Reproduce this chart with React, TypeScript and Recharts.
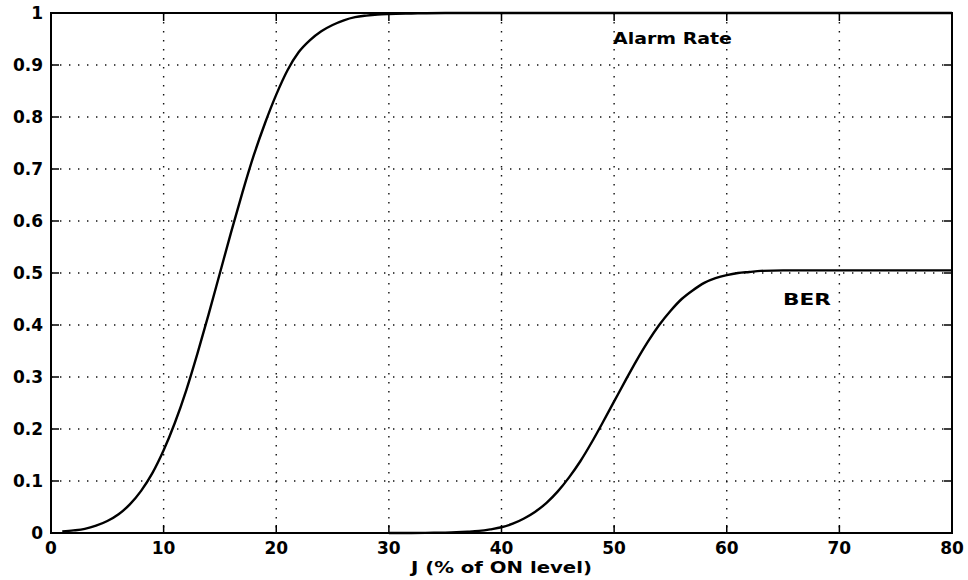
import { LineChart, Line, XAxis, YAxis, CartesianGrid, ReferenceArea, ReferenceDot } from "recharts";

// values
const ALARM_J = [1, 2, 3, 4, 5, 6, 7, 8, 9, 10, 11, 12, 13, 14, 15, 16, 17, 18, 19, 20, 21, 22, 23, 24, 25, 26, 27, 28, 29, 30, 32, 35, 40, 50, 60, 70, 80];
const ALARM_RATE = [0.003, 0.005, 0.008, 0.014, 0.023, 0.036, 0.055, 0.081, 0.115, 0.159, 0.212, 0.274, 0.345, 0.421, 0.5, 0.579, 0.655, 0.726, 0.788, 0.843, 0.89, 0.925, 0.948, 0.965, 0.977, 0.986, 0.992, 0.995, 0.997, 0.998, 0.999, 1, 1, 1, 1, 1, 1];

const BER_J = [30, 32, 34, 35, 36, 37, 38, 39, 40, 41, 42, 43, 44, 45, 46, 47, 48, 49, 50, 51, 52, 53, 54, 55, 56, 57, 58, 59, 60, 61, 62, 63, 65, 70, 80];
const BER = [0, 0.0001, 0.0004, 0.0007, 0.0013, 0.0024, 0.004, 0.007, 0.011, 0.018, 0.028, 0.041, 0.058, 0.08, 0.107, 0.138, 0.174, 0.213, 0.253, 0.293, 0.332, 0.368, 0.4, 0.427, 0.45, 0.467, 0.481, 0.49, 0.496, 0.5, 0.502, 0.504, 0.505, 0.505, 0.505];

const X_TICKS = [0, 10, 20, 30, 40, 50, 60, 70, 80];
const Y_TICKS = [0, 0.1, 0.2, 0.3, 0.4, 0.5, 0.6, 0.7, 0.8, 0.9, 1];

const alarmData = ALARM_J.map((j, i) => ({ j, v: ALARM_RATE[i] }));
const berData = BER_J.map((j, i) => ({ j, v: BER[i] }));

const W = 968;
const H = 580;
const PLOT = { left: 51, right: 952, top: 13, bottom: 533 };
const TICK_LEN = 8;
const FONT = "'DejaVu Sans', sans-serif";

function XTick(props: any) {
  const { x, y, payload } = props;
  return (
    <g>
      <line x1={x} x2={x} y1={PLOT.bottom} y2={PLOT.bottom - TICK_LEN} stroke="#000" strokeWidth={1.5} />
      <line x1={x} x2={x} y1={PLOT.top} y2={PLOT.top + TICK_LEN} stroke="#000" strokeWidth={1.5} />
      <text x={x} y={y} dy="0.72em" textAnchor="middle" fontFamily={FONT} fontWeight="bold" fontSize={17} fill="#000">
        {payload.value}
      </text>
    </g>
  );
}

function YTick(props: any) {
  const { x, y, payload } = props;
  return (
    <g>
      <line x1={PLOT.left} x2={PLOT.left + TICK_LEN} y1={y} y2={y} stroke="#000" strokeWidth={1.5} />
      <line x1={PLOT.right} x2={PLOT.right - TICK_LEN} y1={y} y2={y} stroke="#000" strokeWidth={1.5} />
      <text x={x} y={y} dy="0.36em" textAnchor="end" fontFamily={FONT} fontWeight="bold" fontSize={17} fill="#000">
        {payload.value}
      </text>
    </g>
  );
}

function Note({ cx, cy, text, len }: any) {
  return (
    <text x={cx} y={cy} fontFamily={FONT} fontWeight="bold" fontSize={15} fill="#000" textLength={len} lengthAdjust="spacingAndGlyphs">
      {text}
    </text>
  );
}

export default function App() {
  return (
    <div style={{ position: "absolute", left: 0, top: 0, width: W, height: H, background: "#fff" }}>
      <LineChart width={W} height={H} margin={{ top: PLOT.top, right: W - PLOT.right, bottom: 0, left: 0 }}>
        <CartesianGrid stroke="#111" strokeWidth={1.4} strokeDasharray="1.4 7.6" />
        <XAxis
          dataKey="j"
          type="number"
          domain={[0, 80]}
          ticks={X_TICKS}
          height={H - PLOT.bottom}
          axisLine={false}
          tickLine={false}
          tickSize={0}
          tickMargin={9}
          tick={(p: any) => <XTick {...p} />}
          interval={0}
          label={{
            content: ({ viewBox }: any) => (
              <text
                x={viewBox.x + viewBox.width / 2}
                y={viewBox.y + 40}
                textAnchor="middle"
                fontFamily={FONT}
                fontWeight="bold"
                fontSize={15}
                fill="#000"
                textLength={181}
                lengthAdjust="spacingAndGlyphs"
              >
                J (% of ON level)
              </text>
            ),
          }}
        />
        <YAxis
          type="number"
          domain={[0, 1]}
          ticks={Y_TICKS}
          width={PLOT.left}
          axisLine={false}
          tickLine={false}
          tickSize={0}
          tickMargin={8}
          tick={(p: any) => <YTick {...p} />}
          interval={0}
        />
        <ReferenceArea x1={0} x2={80} y1={0} y2={1} fill="none" stroke="#000" strokeWidth={2} ifOverflow="visible" />
        <Line data={alarmData} dataKey="v" type="monotone" stroke="#000" strokeWidth={2.4} dot={false} isAnimationActive={false} />
        <Line data={berData} dataKey="v" type="monotone" stroke="#000" strokeWidth={2.4} dot={false} isAnimationActive={false} />
        <ReferenceDot x={49.9} y={0.94} r={0} ifOverflow="visible" shape={(p: any) => <Note {...p} text="Alarm Rate" len={119} />} />
        <ReferenceDot x={65} y={0.438} r={0} ifOverflow="visible" shape={(p: any) => <Note {...p} text="BER" len={48} />} />
      </LineChart>
    </div>
  );
}
